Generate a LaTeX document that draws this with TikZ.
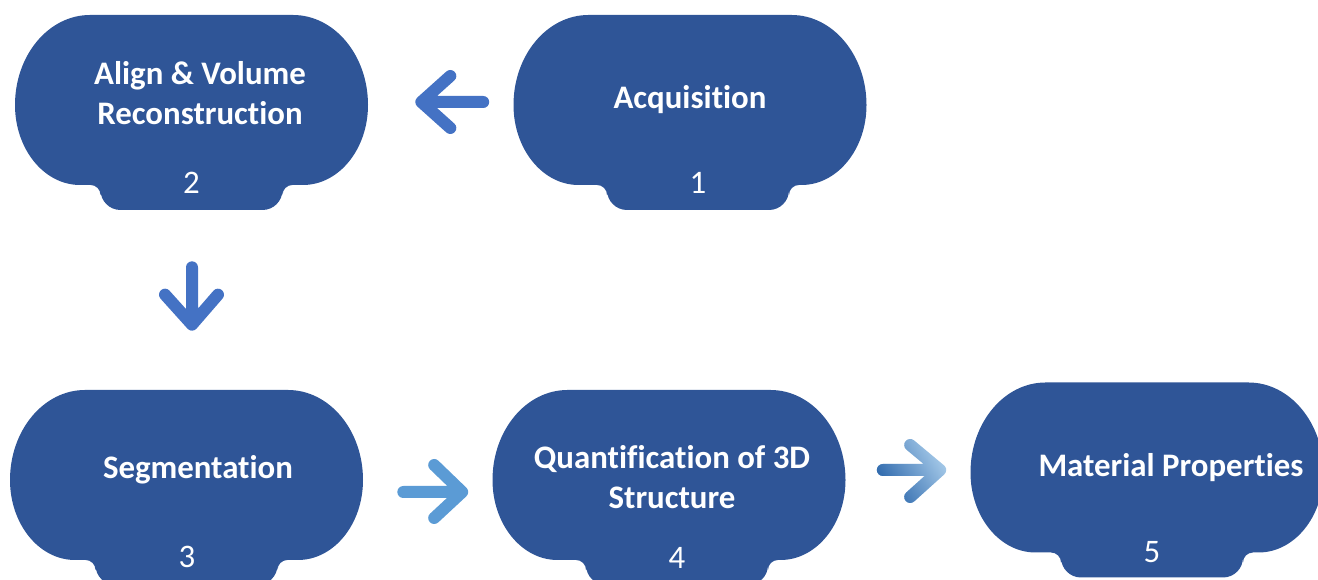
\documentclass[tikz,border=0pt]{standalone}
\usepackage{fontspec}
\setmainfont{Carlito}[Ligatures=CommonOff]
\usepackage{xcolor}
\usetikzlibrary{calc,positioning,fadings}
\definecolor{stageblue}{HTML}{2F5597}
\definecolor{arrowblue}{HTML}{4472C4}
\definecolor{arrowsky}{HTML}{5B9BD5}
\definecolor{arrowdeep}{HTML}{2A65AA}
\definecolor{arrowpale}{HTML}{A9CDEB}

\begin{document}
\begin{tikzpicture}[x=0.02cm,y=0.02cm,
  stagebox/.style={minimum width=7.06cm,minimum height=3.4cm,inner sep=0pt},
  stagetext/.style={text=white,align=center,font=\bfseries\fontsize{18.7}{22.5}\selectfont},
  stagenum/.style={text=white,font=\fontsize{18.7}{22}\selectfont},
  chev/.style={line width=0.24cm,line cap=round,line join=round},
  pics/stagebody/.default=0,
  pics/stagebody/.style={code={
    \fill[stageblue] (-101.5,85) -- (101.5,85)
      arc[start angle=90,end angle=0,x radius=75,y radius=90]
      arc[start angle=0,end angle=-90,x radius=65,y radius=80]
      -- (#1+101,-85) arc[start angle=90,end angle=180,radius=10]
      -- (#1+91,-90) arc[start angle=0,end angle=-90,radius=20]
      -- (#1-71,-110) arc[start angle=270,end angle=180,radius=20]
      -- (#1-91,-95) arc[start angle=0,end angle=90,radius=10]
      -- (-111.5,-85)
      arc[start angle=270,end angle=180,x radius=65,y radius=80]
      arc[start angle=180,end angle=90,x radius=75,y radius=90] -- cycle;
  }}]
  \useasboundingbox (0,0) rectangle (1318,580);

  % stage bodies
  \node[stagebox] (b1) at (690,480) {};
  \node[stagebox] (b2) at (191.5,480) {};
  \node[stagebox] (b3) at (186.5,105) {};
  \node[stagebox] (b4) at (669,105) {};
  \node[stagebox] (b5) at (1147,112.5) {};
  \pic at (b1) {stagebody=8};
  \pic at (b2) {stagebody};
  \pic at (b3) {stagebody};
  \pic at (b4) {stagebody=8};
  \pic at (b5) {stagebody=5};

  % titles and numbers
  \node[stagetext] (acq) at (690,480) {Acquisition};
  \node[stagetext] (align) at (200,487) {Align \& Volume\\Reconstruction};
  \node[stagetext] (seg) at (198,110) {Segmentation};
  \node[stagetext] (quant) at (672,103) {Quantification of 3D\\Structure};
  \node[stagetext] (mat) at (1171,112) {Material Properties};
  \node[stagenum] (n1) at (698,397) {1};
  \node[stagenum] (n2) at (191.5,397) {2};
  \node[stagenum] (n3) at (187,23) {3};
  \node[stagenum] (n4) at (677,22) {4};
  \node[stagenum] (n5) at (1152,28) {5};

  % arrows between stages
  \coordinate (a1s) at ($(b1.west)+(-30,-2)$);
  \coordinate (a1t) at ($(b2.east)+(53,-2)$);
  \draw[chev,arrowblue] (a1s) -- (a1t) -- +(29,26) (a1t) -- +(29,-26);
  \coordinate (a2s) at ($(b2.south)+(0.5,-82)$);
  \coordinate (a2t) at ($(a2s |- b3.north)+(0,65)$);
  \draw[chev,arrowblue] (a2s) -- (a2t) -- +(-27,30) (a2t) -- +(26,30);
  \coordinate (a3s) at ($(b3.east)+(40,-17)$);
  \coordinate (a3t) at ($(b4.west)+(-30,-17)$);
  \draw[chev,arrowsky] (a3s) -- (a3t) -- +(-28,27) (a3t) -- +(-28,-26);
  \coordinate (a4s) at ($(b4.east)+(37,5)$);
  \coordinate (a4t) at ($(b5.west)+(-30,-2.5)$);
  \draw[chev,arrowpale] (a4s) -- (a4t) -- +(-30,25) (a4t) -- +(-30,-27);
  \draw[chev,arrowdeep,path fading=east,fading angle=30] (a4s) -- (a4t) -- +(-30,25) (a4t) -- +(-30,-27);
\end{tikzpicture}
\end{document}
